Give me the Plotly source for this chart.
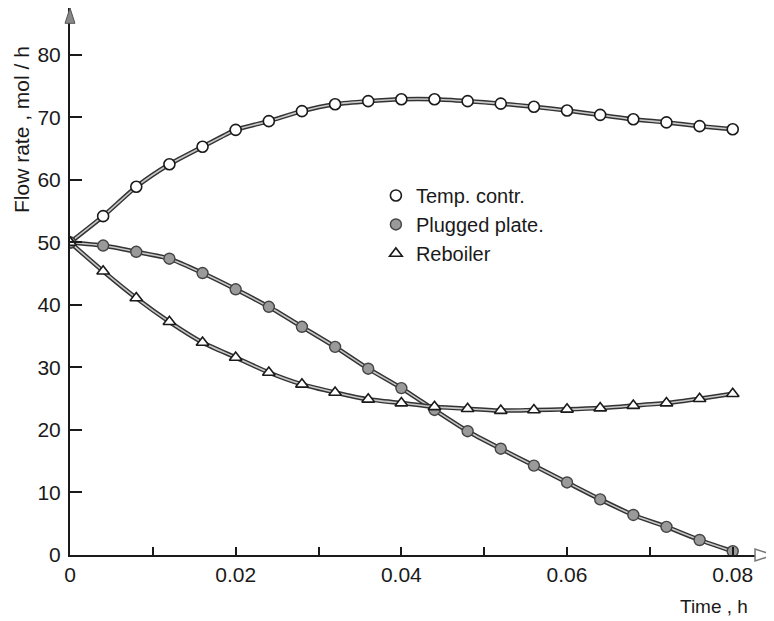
import plotly.graph_objects as go

time_h = [0.000, 0.004, 0.008, 0.012, 0.016, 0.020, 0.024, 0.028, 0.032, 0.036, 0.040,
          0.044, 0.048, 0.052, 0.056, 0.060, 0.064, 0.068, 0.072, 0.076, 0.080]
temp_contr = [50, 54.2, 58.9, 62.5, 65.3, 68.0, 69.4, 71.0, 72.1, 72.6, 72.9,
              72.9, 72.6, 72.2, 71.7, 71.1, 70.4, 69.7, 69.2, 68.6, 68.1]
plugged_plate = [50, 49.5, 48.5, 47.4, 45.1, 42.5, 39.7, 36.5, 33.3, 29.8, 26.7,
                 23.2, 19.8, 17.0, 14.3, 11.6, 8.9, 6.4, 4.5, 2.4, 0.6]
reboiler = [50, 45.4, 41.1, 37.3, 34.0, 31.6, 29.2, 27.3, 26.0, 24.9, 24.3,
            23.7, 23.4, 23.1, 23.2, 23.3, 23.5, 23.9, 24.3, 25.0, 25.8]

x_tickvals = [0, 0.01, 0.02, 0.03, 0.04, 0.05, 0.06, 0.07, 0.08]
x_ticktext = ["0", "", "0.02", "", "0.04", "", "0.06", "", "0.08"]
y_tickvals = [0, 10, 20, 30, 40, 50, 60, 70, 80]

FONT = "Liberation Sans"
INK = "#1a1a1a"

series = [
    ("Temp. contr.", temp_contr, dict(symbol="circle", size=11, color="white",
                                      line=dict(color=INK, width=1.6))),
    ("Plugged plate.", plugged_plate, dict(symbol="circle", size=11, color="#9a9a9a",
                                           line=dict(color="#444", width=1.4))),
    ("Reboiler", reboiler, dict(symbol="triangle-up", size=11, color="white",
                                line=dict(color=INK, width=1.6))),
]

fig = go.Figure()
for name, vals, mk in series:
    fig.add_trace(go.Scatter(x=time_h, y=vals, mode="lines", showlegend=False,
                             line=dict(color="#333", width=4.5, shape="spline", smoothing=0.6),
                             hoverinfo="skip"))
    fig.add_trace(go.Scatter(x=time_h, y=vals, mode="lines", showlegend=False,
                             line=dict(color="#c8c8c8", width=1.6, shape="spline", smoothing=0.6),
                             hoverinfo="skip"))
for name, vals, mk in series:
    fig.add_trace(go.Scatter(x=time_h, y=vals, mode="markers", name=name, marker=mk))

fig.update_layout(
    width=766, height=613,
    margin=dict(l=62, r=4, t=0, b=66),
    plot_bgcolor="white", paper_bgcolor="white",
    font=dict(family=FONT, size=21, color=INK),
    legend=dict(x=0.437, y=0.693, xanchor="left", yanchor="top",
                bgcolor="rgba(0,0,0,0)", font=dict(size=20), itemwidth=30,
                tracegroupgap=0),
    xaxis=dict(range=[0, 0.0845], showline=True, linecolor=INK, linewidth=2,
               ticks="inside", ticklen=8, tickwidth=1.5, tickcolor=INK,
               tickvals=x_tickvals, ticktext=x_ticktext,
               showgrid=False, zeroline=False),
    yaxis=dict(range=[0, 87.5], showline=True, linecolor=INK, linewidth=2,
               ticks="inside", ticklen=12, tickwidth=1.5, tickcolor=INK,
               tickvals=y_tickvals, ticklabelstandoff=3,
               showgrid=False, zeroline=False),
    shapes=[
        dict(type="path", xref="paper", yref="paper",
             path="M -0.0071,0.972 L 0.0071,0.972 L 0,1.0 Z",
             fillcolor="#888", line=dict(color="#555", width=1)),
        dict(type="path", xref="paper", yref="paper",
             path="M 0.9786,0.011 L 0.9786,-0.011 L 1.0043,0 Z",
             fillcolor="white", line=dict(color="#777", width=1.5)),
    ],
    annotations=[
        dict(text="Flow rate , mol / h", xref="paper", yref="paper",
             x=-0.0685, y=0.777, textangle=-90, showarrow=False,
             xanchor="center", yanchor="middle", font=dict(size=21)),
        dict(text="Time , h", xref="paper", yref="paper",
             x=0.971, y=-0.095, showarrow=False, xanchor="right", yanchor="middle",
             font=dict(size=19)),
    ],
)

fig.write_html("out.html")
